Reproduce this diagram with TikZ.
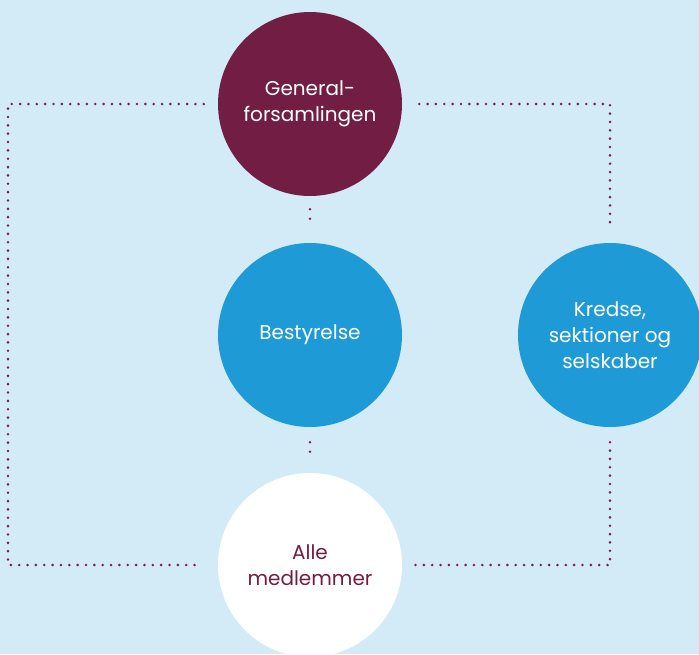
\documentclass[tikz,border=0pt]{standalone}
\usepackage{fontspec}
\setmainfont{Poppins}[Ligatures=NoCommon]
\definecolor{bgblue}{HTML}{D3EBF6}
\definecolor{maroon}{HTML}{721E44}
\definecolor{circblue}{HTML}{1E9AD6}
\definecolor{dotcol}{HTML}{7A2350}
\begin{document}
\begin{tikzpicture}[x=1pt,y=-1pt,
  circ/.style={circle,minimum size=184pt,inner sep=0pt,align=center,font=\fontsize{20}{26}\selectfont},
  dotline/.style={draw=dotcol,line width=2.9pt,line cap=round,dash pattern=on 0pt off 8.35pt},
  shortdots/.style={draw=dotcol,line width=2.9pt,line cap=round,dash pattern=on 0pt off 9.5pt}]
\useasboundingbox (0,0) rectangle (699,654);
\fill[bgblue] (0,0) rectangle (699,654);
\node[circ,fill=maroon,text=white] (gf) at (310,104) {General-\\forsamlingen};
\node[circ,fill=circblue,text=white] (bs) at (310,335) {Bestyrelse};
\node[circ,fill=circblue,text=white] (ks) at (610,335) {Kredse,\\sektioner og\\selskaber};
\node[circ,fill=white,text=maroon] (am) at (310,565) {Alle\\medlemmer};
\coordinate (tl) at (8,104);
\coordinate (tr) at (610,104);
\coordinate (bl) at (8,565);
\coordinate (br) at (610,565);
\draw[dotline,shorten <=14pt,shorten >=17pt] (gf) -- (tl) -- (bl) -- (am);
\draw[dotline,shorten <=17pt,shorten >=13pt] (gf) -- (tr) -- (ks);
\draw[dotline,shorten <=15pt,shorten >=13pt] (ks) -- (br) -- (am);
\draw[shortdots,shorten <=13pt,shorten >=15pt] (gf) -- (bs);
\draw[shortdots,shorten <=15pt,shorten >=12pt] (bs) -- (am);
\end{tikzpicture}
\end{document}
